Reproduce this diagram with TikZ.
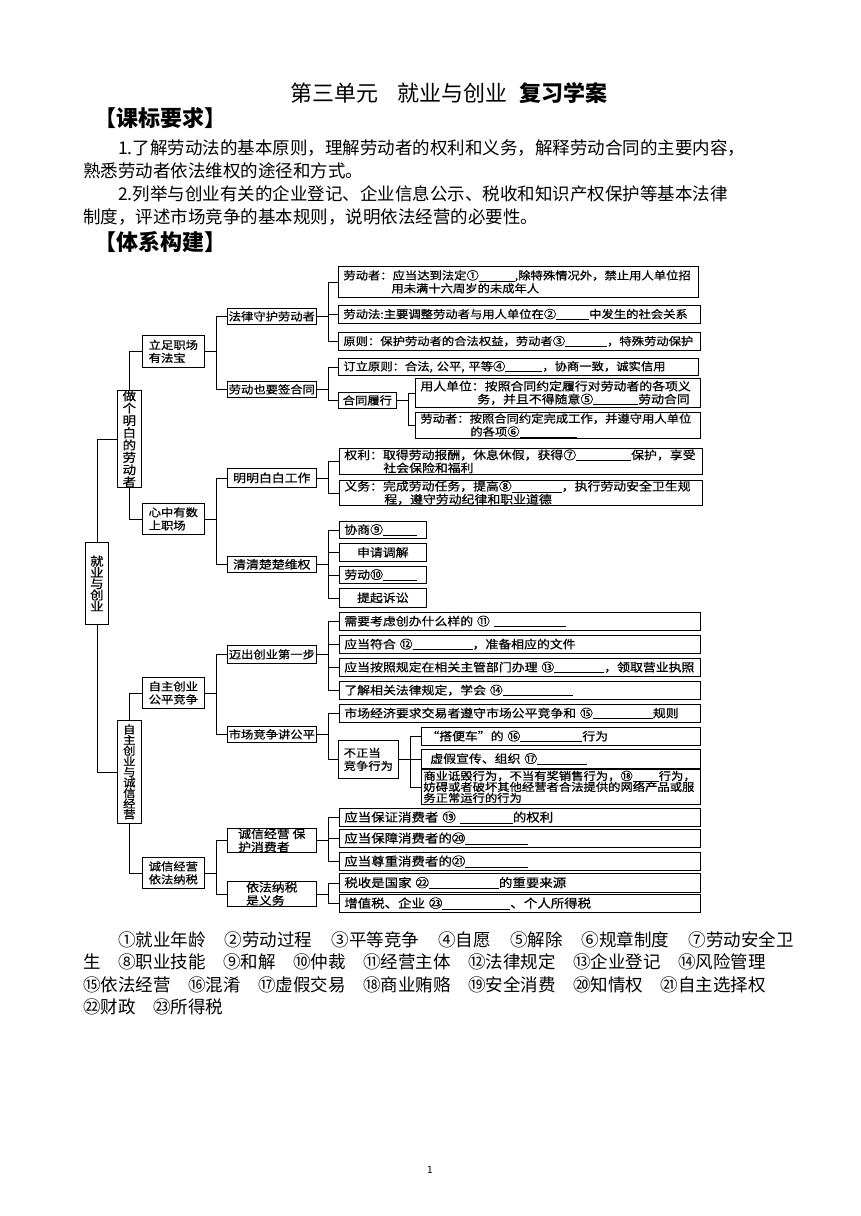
\documentclass[tikz,border=0pt]{standalone}
\usepackage{fontspec}
\setmainfont{Noto Sans CJK SC}
\newfontfamily\treefont{Noto Sans CJK SC}[FakeStretch=1.12, FakeBold=0.6]
\newcommand{\fillin}[1]{\rule[-1.5pt]{#1}{0.5pt}}

\begin{document}
\begin{tikzpicture}[x=1pt, y=-1pt,
    box/.style={draw, line width=0.7pt, anchor=north west, inner xsep=5pt, inner ysep=0pt},
    leaf/.style={box, align=left, font=\treefont\fontsize{#1}{13}\selectfont},
    leaf/.default=11,
    mid/.style={box, align=center, inner xsep=1pt, font=\treefont\fontsize{#1}{13}\selectfont},
    mid/.default=11,
    vbox/.style={box, align=center, inner xsep=1pt, font=\treefont\fontsize{12}{#1}\selectfont},
    link/.style={line width=0.7pt},
    head/.style={anchor=west, inner sep=0pt, font=\fontsize{17.5}{20}\selectfont}]

  \fill[white] (0,0) rectangle (860,1216);
  \useasboundingbox (0,0) rectangle (860,1216);

  % heading and course requirements
  \node[head, font=\fontsize{22}{24}\selectfont] (title) at (290,93)
    {第三单元\hspace{0.9em}就业与创业\hspace{0.5em}\textbf{复习学案}};
  \node[head, font=\bfseries\fontsize{22}{24}\selectfont] (req) at (94,118) {【课标要求】};
  \node[head] (p1a) at (118,148) {1.了解劳动法的基本原则，理解劳动者的权利和义务，解释劳动合同的主要内容，};
  \node[head] (p1b) at (83,171) {熟悉劳动者依法维权的途径和方式。};
  \node[head] (p2a) at (118,194) {2.列举与创业有关的企业登记、企业信息公示、税收和知识产权保护等基本法律};
  \node[head] (p2b) at (83,217) {制度，评述市场竞争的基本规则，说明依法经营的必要性。};
  \node[head, font=\bfseries\fontsize{22}{24}\selectfont] (sys) at (94,242) {【体系构建】};

  % trunk
  \node[vbox=11.3, minimum width=23pt, minimum height=82pt] (root) at (85,542) {就\\业\\与\\创\\业};
  \node[vbox=12.3, minimum width=24pt, minimum height=97pt] (lab) at (117,390) {做\\个\\明\\白\\的\\劳\\动\\者};
  \node[vbox=10.6, minimum width=24pt, minimum height=103pt, font=\treefont\fontsize{11}{10.6}\selectfont] (biz) at (117,720) {自\\主\\创\\业\\与\\诚\\信\\经\\营};

  \node[leaf, minimum width=62pt, minimum height=32pt] (fa) at (142,335) {立足职场\\有法宝};
  \node[leaf, minimum width=62pt, minimum height=31pt] (xin) at (142,503) {心中有数\\上职场};
  \node[leaf, minimum width=62pt, minimum height=31pt] (zi) at (142,677) {自主创业\\公平竞争};
  \node[leaf, minimum width=62pt, minimum height=31pt] (cheng) at (142,857) {诚信经营\\依法纳税};

  \node[mid, minimum width=89pt, minimum height=16pt] (fl) at (227,308) {法律守护劳动者};
  \node[mid, minimum width=89pt, minimum height=16pt] (ht) at (227,381) {劳动也要签合同};
  \node[mid=11.5, minimum width=89pt, minimum height=19pt] (gz) at (227,468) {明明白白工作};
  \node[mid=11.5, minimum width=89pt, minimum height=16pt] (wq) at (227,556) {清清楚楚维权};
  \node[mid, minimum width=89pt, minimum height=18pt] (mc) at (227,645) {迈出创业第一步};
  \node[mid, minimum width=89pt, minimum height=16pt] (gp) at (227,726) {市场竞争讲公平};
  \node[leaf=11.5, minimum width=89pt, minimum height=24pt] (bx) at (227,828) {诚信经营 保\\护消费者};
  \node[leaf=11.5, minimum width=89pt, minimum height=25pt] (ns) at (227,881) {依法纳税\\是义务};

  % leaves
  \node[leaf, text width=350pt, minimum height=31pt] (fl1) at (338,266)
    {劳动者：应当达到法定①\fillin{36pt},除特殊情况外，禁止用人单位招\\\hspace*{48pt}用未满十六周岁的未成年人};
  \node[leaf, text width=352pt, minimum height=18pt] (fl2) at (338,305)
    {劳动法:主要调整劳动者与用人单位在②\fillin{33pt}中发生的社会关系};
  \node[leaf, text width=352pt, minimum height=18pt] (fl3) at (338,332)
    {原则：保护劳动者的合法权益，劳动者③\fillin{42pt}，特殊劳动保护};
  \node[leaf, text width=350pt, minimum height=17pt] (ht1) at (338,358)
    {订立原则：合法, 公平, 平等④\fillin{37pt}，协商一致，诚实信用};
  \node[mid, minimum width=58pt, minimum height=16pt] (ht2) at (338,392) {合同履行};
  \node[leaf=11.5, text width=275pt, minimum height=29pt] (lx1) at (415,378)
    {用人单位：按照合同约定履行对劳动者的各项义\\\hspace*{57pt}务，并且不得随意⑤\fillin{45pt}劳动合同};
  \node[leaf, text width=275pt, minimum height=26pt] (lx2) at (415,412)
    {劳动者：按照合同约定完成工作，并遵守用人单位\\\hspace*{50pt}的各项⑥\fillin{57pt}};

  \node[leaf=11.5, text width=353pt, minimum height=26pt] (gz1) at (339,448)
    {权利：取得劳动报酬，休息休假，获得⑦\fillin{55pt}保护，享受\\\hspace*{39pt}社会保险和福利};
  \node[leaf=11.5, text width=353pt, minimum height=25pt] (gz2) at (339,480)
    {义务：完成劳动任务，提高⑧\fillin{50pt}，执行劳动安全卫生规\\\hspace*{40pt}程，遵守劳动纪律和职业道德};
  \node[leaf=11.5, text width=77pt, minimum height=17pt] (wq1) at (339,521) {协商⑨\fillin{34pt}};
  \node[mid=11.5, minimum width=87pt, minimum height=18pt] (wq2) at (339,543) {申请调解};
  \node[leaf=11.5, text width=77pt, minimum height=17pt] (wq3) at (339,566) {劳动⑩\fillin{34pt}};
  \node[mid=11.5, minimum width=87pt, minimum height=19pt] (wq4) at (339,588) {提起诉讼};

  \node[leaf=11.5, text width=351pt, minimum height=18pt] (mc1) at (339,612) {需要考虑创办什么样的 ⑪ \fillin{72pt}};
  \node[leaf=11.5, text width=351pt, minimum height=18pt] (mc2) at (339,635) {应当符合 ⑫\fillin{60pt}，准备相应的文件};
  \node[leaf=11.5, text width=351pt, minimum height=18pt] (mc3) at (339,658) {应当按照规定在相关主管部门办理 ⑬\fillin{50pt}，领取营业执照};
  \node[leaf=11.5, text width=351pt, minimum height=18pt] (mc4) at (339,681) {了解相关法律规定，学会 ⑭\fillin{70pt}};
  \node[leaf=11.5, text width=351pt, minimum height=18pt] (gp1) at (339,704) {市场经济要求交易者遵守市场公平竞争和 ⑮\fillin{60pt}规则};
  \node[leaf, minimum width=60pt, minimum height=38pt] (gp2) at (338,740) {不正当\\竞争行为};
  \node[leaf=11.5, text width=269pt, minimum height=18pt] (bz1) at (421,727) {“搭便车”的 ⑯\fillin{62pt}行为};
  \node[leaf=11.5, text width=269pt, minimum height=19pt] (bz2) at (421,749) {\hspace*{4pt}虚假宣传、组织 ⑰\fillin{50pt}};
  \node[leaf, inner xsep=2pt, text width=275pt, minimum height=35pt, font=\treefont\fontsize{11}{11}\selectfont] (bz3) at (421,769)
    {商业诋毁行为，不当有奖销售行为，⑱\fillin{26pt}行为，\\妨碍或者破坏其他经营者合法提供的网络产品或服\\务正常运行的行为};

  \node[leaf=12, text width=351pt, minimum height=18pt] (bx1) at (339,808) {应当保证消费者 ⑲ \fillin{53pt}的权利};
  \node[leaf=12, text width=351pt, minimum height=18pt] (bx2) at (339,829) {应当保障消费者的⑳\fillin{63pt}};
  \node[leaf=12, text width=351pt, minimum height=18pt] (bx3) at (339,852) {应当尊重消费者的㉑\fillin{63pt}};
  \node[leaf=12, text width=351pt, minimum height=19pt] (ns1) at (339,873) {税收是国家 ㉒\fillin{70pt}的重要来源};
  \node[leaf=12, text width=351pt, minimum height=18pt] (ns2) at (339,894) {增值税、企业 ㉓\fillin{68pt}、个人所得税};

  % connectors
  \draw[link] (root.north) |- (lab.west);
  \draw[link] (root.south) |- (biz.west);
  \draw[link] (lab.north) |- (fa.west);
  \draw[link] (lab.south) |- (xin.west);
  \draw[link] (biz.north) |- (zi.west);
  \draw[link] (biz.south) |- (cheng.west);
  \foreach \p/\k in {fa/{fl,ht}, xin/{gz,wq}, zi/{mc,gp}, cheng/{bx,ns},
      fl/{fl1,fl2,fl3}, ht/{ht1,ht2}, ht2/{lx1,lx2}, gz/{gz1,gz2}, wq/{wq1,wq2,wq3,wq4},
      mc/{mc1,mc2,mc3,mc4}, gp/{gp1,gp2}, gp2/{bz1,bz2,bz3}, bx/{bx1,bx2,bx3}, ns/{ns1,ns2}} {
    \draw[link] (\p.east) -- ++(12,0) coordinate (j);
    \foreach \c in \k
      \draw[link] (j) |- (\c.west);
  }

  % answers
  \node[head] (a1) at (118,940) {①就业年龄\hspace{1.1em}②劳动过程\hspace{1.1em}③平等竞争\hspace{1.1em}④自愿\hspace{1.1em}⑤解除\hspace{1.1em}⑥规章制度\hspace{1.1em}⑦劳动安全卫};
  \node[head] (a2) at (83,962) {生\hspace{1em}⑧职业技能\hspace{1em}⑨和解\hspace{1em}⑩仲裁\hspace{1em}⑪经营主体\hspace{1em}⑫法律规定\hspace{1em}⑬企业登记\hspace{1em}⑭风险管理};
  \node[head] (a3) at (83,985) {⑮依法经营\hspace{1em}⑯混淆\hspace{1em}⑰虚假交易\hspace{1em}⑱商业贿赂\hspace{1em}⑲安全消费\hspace{1em}⑳知情权\hspace{1em}㉑自主选择权};
  \node[head] (a4) at (83,1007) {㉒财政\hspace{1em}㉓所得税};

  \node[inner sep=0pt, font=\fontsize{10}{12}\selectfont] (page) at (430,1170) {1};
\end{tikzpicture}
\end{document}
